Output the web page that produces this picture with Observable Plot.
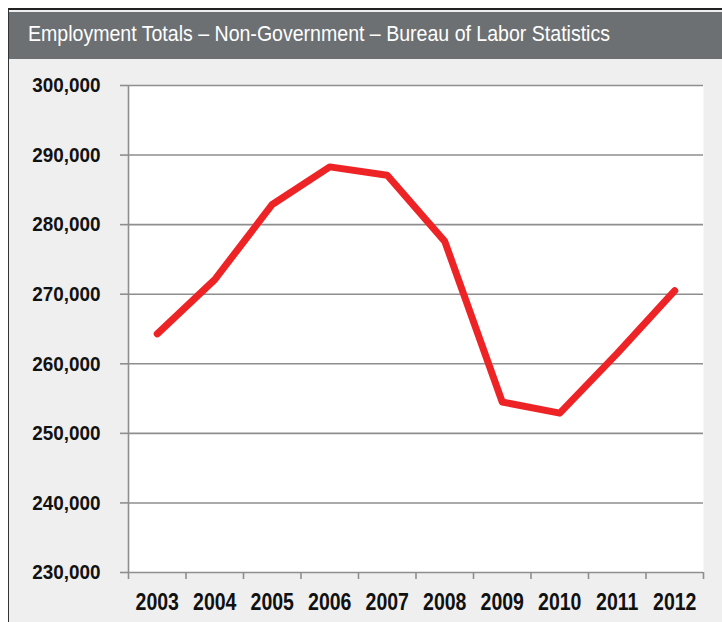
<!DOCTYPE html>
<html>
<head>
<meta charset="utf-8">
<script src="https://cdn.jsdelivr.net/npm/d3@7"></script>
<script src="https://cdn.jsdelivr.net/npm/@observablehq/plot@0.6"></script>
<style>
  html, body { margin: 0; padding: 0; background: #ffffff; width: 722px; height: 622px; overflow: hidden; }
  #wrap {
    position: absolute; left: 8px; top: 8px; width: 714px; height: 614px;
    border-left: 1.5px solid #333; border-top: 2px solid #222;
    background: #efefef;
  }
  #title {
    height: 47px; background: #6c7073; color: #fff; margin-top: 2px;
    position: relative; overflow: hidden;
  }
  #title span {
    position: absolute; left: 19px; top: 9px; white-space: nowrap;
    font-family: "Liberation Sans", Arial, sans-serif; font-size: 22px;
    transform-origin: 0 0; display: inline-block;
  }
  #chart svg { display: block; }
</style>
</head>
<body>
<div id="wrap">
  <div id="title"><span id="titleText">Employment Totals – Non-Government – Bureau of Labor Statistics</span></div>
  <div id="chart"></div>
</div>
<script>
const years = [2003, 2004, 2005, 2006, 2007, 2008, 2009, 2010, 2011, 2012];
const employment = [264300, 272100, 282900, 288300, 287100, 277600, 254500, 252900, 261500, 270500];
const yTicks = [230000, 240000, 250000, 260000, 270000, 280000, 290000, 300000];

const data = years.map((year, i) => ({year, value: employment[i]}));
const bandEdges = d3.range(years[0] - 0.5, years[years.length - 1] + 1, 1);
const font = '"Liberation Sans", Arial, sans-serif';

const chart = Plot.plot({
  width: 713,
  height: 563,
  marginLeft: 119,
  marginRight: 19,
  marginTop: 26,
  marginBottom: 50,
  style: {background: "#efefef", fontFamily: font, color: "#111"},
  x: {domain: [years[0] - 0.5, years[years.length - 1] + 0.5]},
  y: {domain: [230000, 300000]},
  marks: [
    Plot.frame({fill: "white", stroke: null}),
    Plot.gridY(yTicks, {stroke: "#8e8e8e", strokeOpacity: 1, strokeWidth: 1.6}),
    Plot.ruleX([years[0] - 0.5], {stroke: "#8e8e8e", strokeWidth: 1.6}),
    Plot.axisY(yTicks, {tickSize: 8, tickPadding: 20, stroke: "#8e8e8e", strokeWidth: 1.6,
      tickFormat: d3.format(","), fontSize: 21, fontWeight: "bold", fill: "#111", label: null}),
    Plot.axisX(bandEdges, {tickSize: 7, tickFormat: () => "", stroke: "#8e8e8e", strokeWidth: 1.6, label: null}),
    Plot.axisX(years, {tickSize: 0, tickPadding: 21, tickFormat: d => String(d),
      fontSize: 23.5, fontWeight: "bold", fill: "#111", label: null}),
    Plot.line(data, {x: "year", y: "value", stroke: "#ee2326", strokeWidth: 7,
      strokeLinecap: "round", strokeLinejoin: "round"})
  ]
});
document.getElementById("chart").appendChild(chart);

// emulate the condensed (narrow) typeface of the original
function condense(selector, s) {
  chart.querySelectorAll(selector).forEach(t => {
    let tr = t.getAttribute("transform");
    if (!tr) {
      const x = +(t.getAttribute("x") || 0), y = +(t.getAttribute("y") || 0);
      t.removeAttribute("x"); t.removeAttribute("y");
      tr = `translate(${x},${y})`;
    }
    t.setAttribute("transform", `${tr} scale(${s},1)`);
  });
}
condense('g[aria-label="y-axis tick label"] text', 0.9);
condense('g[aria-label="x-axis tick label"] text', 0.83);

const tt = document.getElementById("titleText");
const w = tt.getBoundingClientRect().width;
tt.style.transform = `scaleX(${582 / w})`;
</script>
</body>
</html>
